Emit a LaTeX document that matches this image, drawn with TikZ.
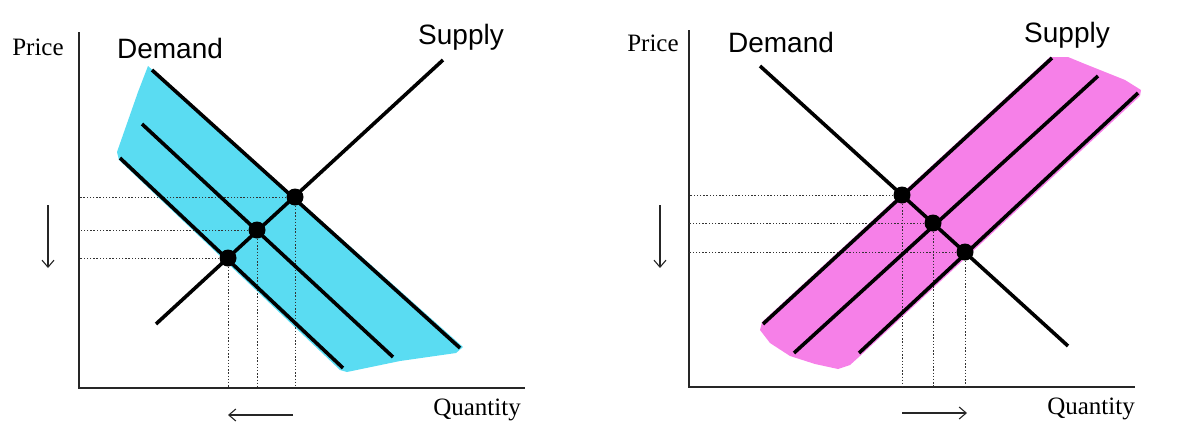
\documentclass[tikz,border=0pt]{standalone}
\usepackage{fontspec}
\setmainfont{Liberation Serif}
\setsansfont{Liberation Sans}
\usetikzlibrary{arrows.meta}
\definecolor{bandcyan}{RGB}{90,220,242}
\definecolor{bandpink}{RGB}{246,128,232}
\tikzset{
  curve/.style={line width=3.6pt, draw=black},
  axisline/.style={line width=1.4pt, draw=black!85},
  guide/.style={line width=1pt, draw=black!80, dash pattern=on 1.4pt off 1.8pt},
  eqdot/.style={circle, fill=black, inner sep=0pt, minimum size=17pt},
  serifl/.style={font=\fontsize{25}{25}\selectfont, inner sep=0pt},
  sansl/.style={font=\sffamily\fontsize{28}{28}\selectfont, inner sep=0pt},
  shiftarrow/.style={line width=1.1pt, draw=black!85, -{Straight Barb[length=7pt,width=12pt]}},
}
\begin{document}
\begin{tikzpicture}[x=1pt,y=-1pt]
\useasboundingbox (0,0) rectangle (1187,445);
% ================= LEFT PANEL =================
\fill[bandcyan] (148,66) -- (463,347) -- (456,353) -- (400,361) -- (347,372) -- (340,370)
  -- (119,160) -- (117,152) -- (138,92) -- cycle;
\coordinate (LO) at (79,388);
\coordinate (LYtop) at (79,32);
\coordinate (LXend) at (525,388);
\draw[axisline] (LYtop) -- (LO) -- (LXend);
\node[eqdot] (L1) at (295,197) {};
\node[eqdot] (L2) at (257,230) {};
\node[eqdot] (L3) at (228,258) {};
\foreach \d in {L1,L2,L3} {
  \draw[guide] (\d) -- (\d -| LO);
  \draw[guide] (\d) -- (\d |- LO);
}
\coordinate (LDa1) at (152,70);  \coordinate (LDb1) at (460,348);
\coordinate (LDa2) at (142,124); \coordinate (LDb2) at (393,357);
\coordinate (LDa3) at (120,158); \coordinate (LDb3) at (343,368);
\coordinate (LSa) at (156,324);  \coordinate (LSb) at (443,60);
\draw[curve] (LDa1) -- (LDb1);
\draw[curve] (LDa2) -- (LDb2);
\draw[curve] (LDa3) -- (LDb3);
\draw[curve] (LSa) -- (LSb);
\node[serifl] (Lprice) at (38,47) {Price};
\node[sansl] (Ldemand) at (170,48) {Demand};
\node[sansl] (Lsupply) at (461,37) {Supply};
\node[serifl] (Lqty) at (477,410) {Quantity};
\coordinate (LPa) at (48,205); \coordinate (LPb) at (48,268);
\draw[shiftarrow] (LPa) -- (LPb);
\coordinate (LQa) at (293,415); \coordinate (LQb) at (228,415);
\draw[shiftarrow] (LQa) -- (LQb);
% ================= RIGHT PANEL =================
\fill[bandpink] (1050,57) -- (1068,57) -- (1085,64) -- (1105,72) -- (1125,80) -- (1141,90)
  -- (1140,96) -- (860,356) -- (850,365) -- (838,369) -- (815,364) -- (790,356)
  -- (770,343) -- (760,330) -- (762,322) -- cycle;
\coordinate (RO) at (689,387);
\coordinate (RYtop) at (689,30);
\coordinate (RXend) at (1135,387);
\draw[axisline] (RYtop) -- (RO) -- (RXend);
\node[eqdot] (R1) at (902,195) {};
\node[eqdot] (R2) at (933,223) {};
\node[eqdot] (R3) at (965,252) {};
\foreach \d in {R1,R2,R3} {
  \draw[guide] (\d) -- (\d -| RO);
  \draw[guide] (\d) -- (\d |- RO);
}
\coordinate (RDa) at (760,66);   \coordinate (RDb) at (1068,346);
\coordinate (RSa1) at (763,324); \coordinate (RSb1) at (1052,58);
\coordinate (RSa2) at (794,353); \coordinate (RSb2) at (1098,76);
\coordinate (RSa3) at (859,353); \coordinate (RSb3) at (1138,93);
\draw[curve] (RDa) -- (RDb);
\draw[curve] (RSa1) -- (RSb1);
\draw[curve] (RSa2) -- (RSb2);
\draw[curve] (RSa3) -- (RSb3);
\node[serifl] (Rprice) at (653,43) {Price};
\node[sansl] (Rdemand) at (781,42) {Demand};
\node[sansl] (Rsupply) at (1067,35) {Supply};
\node[serifl] (Rqty) at (1091,409) {Quantity};
\coordinate (RPa) at (660,205); \coordinate (RPb) at (660,268);
\draw[shiftarrow] (RPa) -- (RPb);
\coordinate (RQa) at (902,413); \coordinate (RQb) at (967,413);
\draw[shiftarrow] (RQa) -- (RQb);
\end{tikzpicture}
\end{document}
